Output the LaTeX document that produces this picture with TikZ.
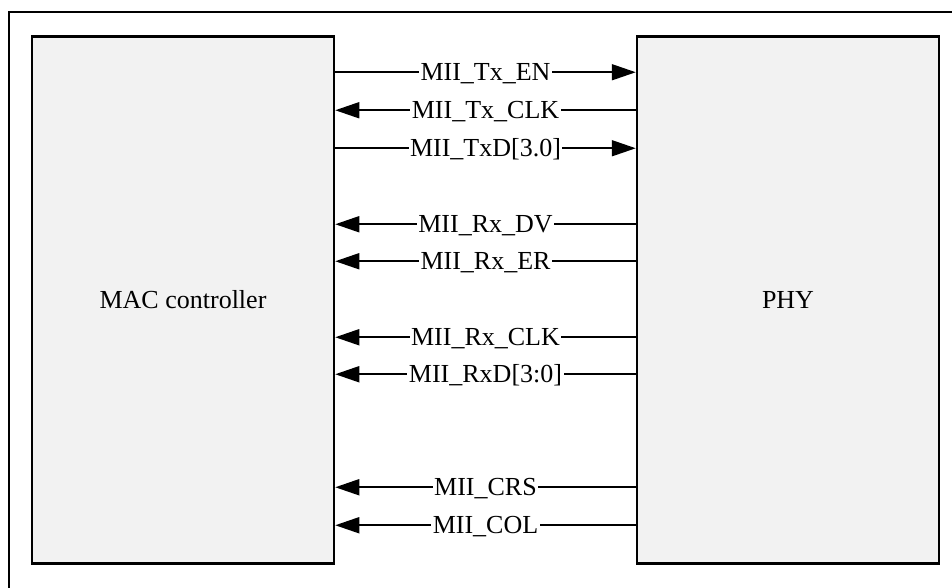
\documentclass[tikz,border=0pt]{standalone}
\usepackage{fontspec}
\setmainfont{Liberation Serif}
\usetikzlibrary{arrows.meta,positioning}
\definecolor{boxG}{RGB}{242,242,242}

\begin{document}
\begin{tikzpicture}[x=1pt, y=-1pt, font=\fontsize{26}{30}\selectfont,
  >={Triangle[length=24pt, width=16pt]},
  blk/.style={rectangle, draw=black, fill=boxG, line width=2.5pt,
              minimum width=302pt, minimum height=527pt, inner sep=0pt},
  sig/.style={line width=1.8pt},
  lbl/.style={fill=white, inner xsep=1.5pt, inner ysep=2pt,
              text height=17.2pt, text depth=0pt}]
  \useasboundingbox (0,0) rectangle (952,588);
  \draw[line width=2.5pt] (9,588) -- (9,12) -- (952,12);

  \node[blk] (mac) at (183,300) {MAC controller};
  \node[blk] (phy) at (788,300) {PHY};

  % MAC -> PHY
  \foreach \dy/\name in {37/MII\_Tx\_EN, 113/MII\_TxD[3.0]}
    \draw[sig, ->] ([yshift=-\dy pt]mac.north east) -- node[lbl]{\name}
      ([yshift=-\dy pt]phy.north west);
  % PHY -> MAC
  \foreach \dy/\name in {75/MII\_Tx\_CLK, 189/MII\_Rx\_DV, 226/MII\_Rx\_ER,
      302/MII\_Rx\_CLK, 339/MII\_RxD[3:0], 452/MII\_CRS, 490/MII\_COL}
    \draw[sig, <-] ([yshift=-\dy pt]mac.north east) -- node[lbl]{\name}
      ([yshift=-\dy pt]phy.north west);
\end{tikzpicture}
\end{document}
